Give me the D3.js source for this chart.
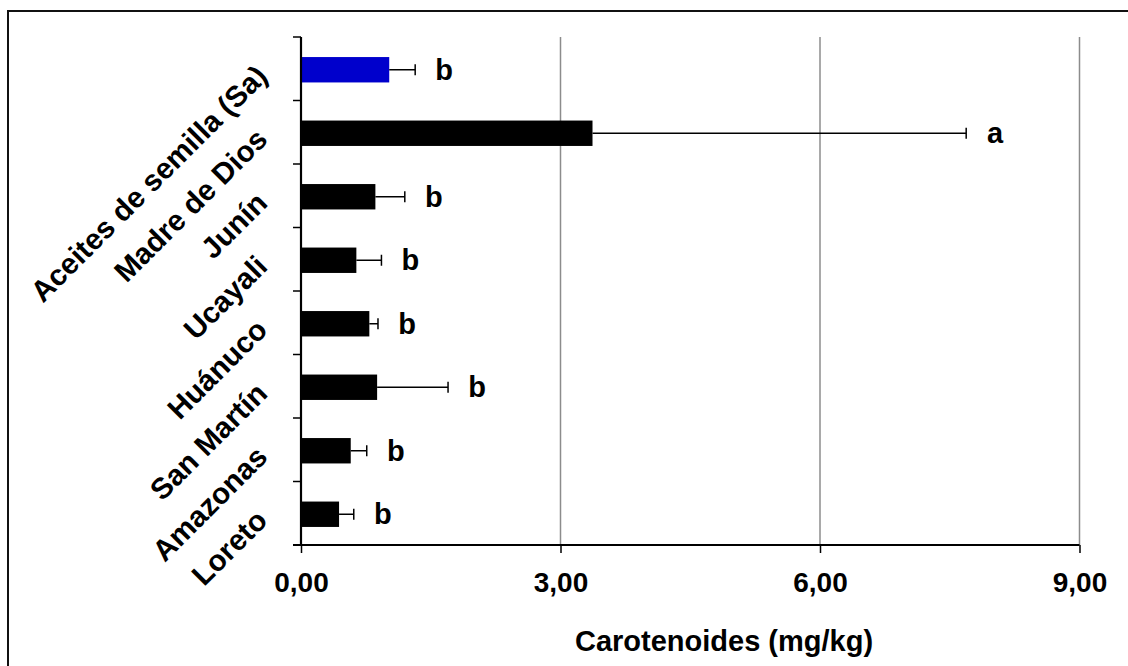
<!DOCTYPE html>
<html>
<head>
  <meta charset="utf-8">
  <title>Carotenoides</title>
  <script src="https://d3js.org/d3.v7.min.js"></script>
  <style>
    body { margin: 0; background: #fff; }
    text { font-family: "Liberation Sans", Arial, sans-serif; font-weight: bold; }
  </style>
</head>
<body>
<script>
// categories from top to bottom
var categories = ["Aceites de semilla (Sa)", "Madre de Dios", "Junín", "Ucayali",
                  "Huánuco", "San Martín", "Amazonas", "Loreto"];
var means  = [1.02, 3.37, 0.86, 0.64, 0.79, 0.88, 0.575, 0.44];
var errors = [0.30, 4.32, 0.34, 0.29, 0.10, 0.82, 0.185, 0.17];
var letters = ["b", "a", "b", "b", "b", "b", "b", "b"];
var xTicks = [0, 3, 6, 9];
var xTitle = "Carotenoides (mg/kg)";

var width = 1128, height = 666;

var svg = d3.select("body").append("svg")
    .attr("width", width)
    .attr("height", height);

// outer frame (runs off the right and bottom edge)
svg.append("rect")
    .attr("x", 8).attr("y", 11)
    .attr("width", 1140).attr("height", 700)
    .attr("fill", "none")
    .attr("stroke", "#111")
    .attr("stroke-width", 2);

var x = d3.scaleLinear().domain([0, 9]).range([301, 1079.5]);
var y = d3.scaleBand().domain(categories).range([37, 545])
    .paddingInner(0.6).paddingOuter(0.3);

var es = d3.formatLocale({decimal: ",", thousands: ".", grouping: [3], currency: ["", "€"]});

// vertical gridlines
svg.append("g").selectAll("line")
    .data(xTicks.filter(function(d) { return d > 0; }))
  .enter().append("line")
    .attr("x1", function(d) { return x(d); })
    .attr("x2", function(d) { return x(d); })
    .attr("y1", 37).attr("y2", 545)
    .attr("stroke", "#8c8c8c")
    .attr("stroke-width", 1.5);

// bars
svg.append("g").selectAll("rect")
    .data(categories)
  .enter().append("rect")
    .attr("x", x(0))
    .attr("y", function(d) { return y(d) + 1; })
    .attr("width", function(d, i) { return x(means[i]) - x(0); })
    .attr("height", y.bandwidth())
    .attr("fill", function(d, i) { return i === 0 ? "#0000cc" : "#000"; });

// error bars
var eb = svg.append("g").attr("stroke", "#000").attr("stroke-width", 1.5);
categories.forEach(function(c, i) {
  var cy = y(c) + 1 + y.bandwidth() / 2;
  var x1 = x(means[i]), x2 = x(means[i] + errors[i]);
  eb.append("line").attr("x1", x1).attr("x2", x2).attr("y1", cy).attr("y2", cy);
  eb.append("line").attr("x1", x2).attr("x2", x2).attr("y1", cy - 5.5).attr("y2", cy + 5.5);
});

// significance letters
svg.append("g").selectAll("text")
    .data(categories)
  .enter().append("text")
    .attr("x", function(d, i) { return x(means[i] + errors[i]) + 29; })
    .attr("y", function(d) { return y(d) + y.bandwidth() / 2 + 11; })
    .attr("text-anchor", "middle")
    .style("font-size", "29px")
    .text(function(d, i) { return letters[i]; });

// x axis
var xAxis = svg.append("g")
    .attr("transform", "translate(0,545)")
    .call(d3.axisBottom(x).tickValues(xTicks).tickSize(8).tickSizeOuter(0)
          .tickFormat(es.format(".2f")));
xAxis.select(".domain").attr("stroke", "#000").attr("stroke-width", 2.2)
    .attr("d", "M" + (x(0) - 8) + ",0H" + x(9));
xAxis.selectAll(".tick line").attr("stroke", "#000").attr("stroke-width", 1.5);
xAxis.selectAll(".tick text")
    .attr("y", 47).attr("dy", null)
    .attr("fill", "#000")
    .style("font-size", "28px");

// y axis line with ticks at the band boundaries
var step = y.step();
var yAxis = svg.append("g").attr("stroke", "#000");
yAxis.append("line")
    .attr("x1", x(0)).attr("x2", x(0))
    .attr("y1", 37).attr("y2", 546)
    .attr("stroke-width", 2.2);
yAxis.selectAll("line.tk")
    .data(d3.range(categories.length + 1))
  .enter().append("line")
    .attr("class", "tk")
    .attr("x1", x(0) - 8).attr("x2", x(0))
    .attr("y1", function(i) { return y.range()[0] + i * step; })
    .attr("y2", function(i) { return y.range()[0] + i * step; })
    .attr("stroke-width", 1.5);

// rotated category labels
svg.append("g").selectAll("text")
    .data(categories)
  .enter().append("text")
    .attr("transform", function(d) {
      return "translate(269," + (y(d) + y.bandwidth() / 2 + 9) + ") rotate(-45)";
    })
    .attr("text-anchor", "end")
    .style("font-size", "29.5px")
    .text(function(d) { return d; });

// axis title
svg.append("text")
    .attr("x", 724).attr("y", 651)
    .attr("text-anchor", "middle")
    .style("font-size", "29px")
    .text(xTitle);
</script>
</body>
</html>
